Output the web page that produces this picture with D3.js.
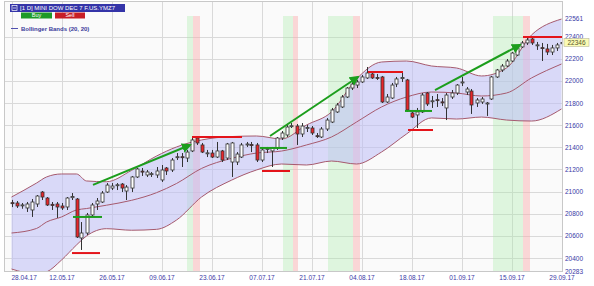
<!DOCTYPE html>
<html>
<head>
<meta charset="utf-8">
<script src="https://cdn.jsdelivr.net/npm/d3@7"></script>
<style>
body { margin: 0; background: #fff; }
svg { display: block; font-family: 'Liberation Sans', Arial, sans-serif; }
</style>
</head>
<body>
<svg id="canvas" width="594" height="286"></svg>
<script>
// tick labels (one every 10 trading days)
let dateLabels = ['28.04.17', '12.05.17', '26.05.17', '09.06.17', '23.06.17', '07.07.17',
    '21.07.17', '04.08.17', '18.08.17', '01.09.17', '15.09.17', '29.09.17']
let dateTicks = [0, 10, 20, 30, 40, 50, 60, 70, 80, 90, 100, 110]
let priceTicks = [20400, 20600, 20800, 21000, 21200, 21400, 21600, 21800, 22000, 22200, 22400]
let priceMin = 20283
let priceMax = 22561
let lastPrice = 22346

// daily candles, one per trading day from 28.04.17
let open = [20900, 20897, 20875, 20852, 20834, 20888, 20996, 20942, 20885, 20888,
    20870, 20861, 20945, 20933, 20581, 20626, 20789, 20888, 20906, 20996,
    21032, 21055, 21068, 21005, 21032, 21132, 21185, 21150, 21155, 21150,
    21105, 21213, 21195, 21310, 21315, 21303, 21367, 21484, 21421, 21345,
    21348, 21312, 21367, 21303, 21267, 21267, 21312, 21425, 21425, 21421,
    21285, 21380, 21367, 21394, 21484, 21511, 21590, 21592, 21520, 21570,
    21574, 21505, 21493, 21565, 21628, 21719, 21764, 21854, 21935, 21962,
    21990, 22026, 22062, 22030, 22035, 21809, 21845, 21971, 22020, 22008,
    21710, 21692, 21719, 21890, 21815, 21830, 21810, 21755, 21854, 21890,
    21985, 21899, 21908, 21800, 21809, 21795, 21836, 22035, 22098, 22134,
    22179, 22233, 22306, 22342, 22378, 22320, 22300, 22288, 22260, 22297, 22335]
let high = [20925, 20915, 20897, 20906, 20933, 20969, 21005, 20951, 20906, 20906,
    20897, 20951, 20987, 20942, 20725, 20807, 20897, 20942, 21005, 21077,
    21077, 21077, 21077, 21059, 21141, 21213, 21213, 21195, 21177, 21222,
    21240, 21222, 21303, 21348, 21348, 21376, 21484, 21493, 21439, 21376,
    21376, 21448, 21376, 21439, 21448, 21357, 21439, 21448, 21448, 21439,
    21394, 21403, 21403, 21493, 21547, 21601, 21619, 21610, 21619, 21601,
    21592, 21529, 21583, 21664, 21755, 21800, 21872, 21944, 21990, 22008,
    22053, 22125, 22080, 22062, 22044, 21881, 21981, 22035, 22071, 22017,
    21719, 21755, 21890, 21899, 21863, 21881, 21845, 21890, 21917, 21971,
    22035, 21944, 21926, 21845, 21854, 21809, 22044, 22107, 22152, 22197,
    22260, 22315, 22360, 22387, 22396, 22351, 22342, 22333, 22324, 22342, 22351]
let low = [20860, 20852, 20845, 20816, 20771, 20861, 20924, 20870, 20834, 20762,
    20834, 20834, 20924, 20581, 20473, 20608, 20771, 20834, 20897, 20987,
    21014, 21014, 20996, 20924, 20996, 21123, 21141, 21132, 21132, 21123,
    21087, 21150, 21177, 21285, 21222, 21267, 21357, 21421, 21348, 21312,
    21303, 21303, 21267, 21285, 21132, 21240, 21303, 21403, 21357, 21267,
    21267, 21348, 21222, 21376, 21466, 21493, 21574, 21421, 21493, 21538,
    21511, 21484, 21484, 21547, 21619, 21710, 21755, 21845, 21917, 21935,
    21981, 22017, 22017, 22008, 21800, 21800, 21836, 21944, 21990, 21719,
    21664, 21574, 21710, 21773, 21755, 21764, 21773, 21646, 21836, 21872,
    21953, 21872, 21701, 21764, 21791, 21683, 21827, 22026, 22080, 22125,
    22170, 22224, 22297, 22324, 22324, 22279, 22179, 22233, 22233, 22270, 22306]
let close = [20895, 20870, 20880, 20888, 20906, 20960, 20951, 20879, 20875, 20861,
    20852, 20942, 20955, 20590, 20626, 20789, 20879, 20915, 20987, 21059,
    21050, 21062, 21032, 21041, 21132, 21204, 21177, 21177, 21162, 21186,
    21195, 21186, 21285, 21315, 21310, 21357, 21466, 21439, 21357, 21350,
    21312, 21367, 21285, 21430, 21439, 21339, 21421, 21430, 21415, 21285,
    21376, 21390, 21394, 21484, 21529, 21583, 21595, 21520, 21592, 21578,
    21529, 21500, 21565, 21646, 21737, 21782, 21854, 21935, 21971, 21990,
    22035, 22071, 22026, 22022, 21809, 21854, 21962, 22017, 22030, 21737,
    21673, 21719, 21872, 21791, 21820, 21825, 21805, 21872, 21890, 21962,
    21990, 21926, 21782, 21827, 21836, 21800, 22035, 22098, 22134, 22179,
    22251, 22297, 22342, 22369, 22342, 22325, 22295, 22260, 22297, 22324, 22346]

// Bollinger bands (20, 20) read at these candle indexes
let bandIdx = [0, 5, 7, 10, 13, 15, 19, 24, 29, 33, 38, 44, 49, 54, 59, 64, 69, 74, 79, 84, 89, 94, 99, 104, 110]
let upperBand = [20951, 21077, 21132, 21159, 21159, 21096, 21089, 21191, 21321, 21403, 21466, 21497, 21502,
    21475, 21601, 21719, 22017, 22170, 22179, 22134, 22116, 22044, 22116, 22414, 22558]
let middleBand = [20626, 20667, 20725, 20771, 20834, 20847, 20877, 20921, 20990, 21073, 21209, 21300, 21348,
    21366, 21421, 21493, 21628, 21764, 21854, 21899, 21890, 21863, 21890, 22026, 22152]
let lowerBand = [20301, 20256, 20274, 20382, 20518, 20599, 20665, 20651, 20659, 20743, 20951, 21103, 21195,
    21249, 21240, 21276, 21249, 21357, 21520, 21665, 21655, 21673, 21646, 21637, 21746]

// signal zones, as candle index ranges
let greenZones = [[35.1, 36.3], [54.3, 56.3], [63.3, 68.3], [96.3, 102.3]]
let redZones = [[36.3, 37.7], [56.3, 57.3], [68.3, 69.7], [102.3, 103.7]]

// drawn annotations: [fromIdx, fromPrice, toIdx, toPrice]
let trendArrows = [[16.3, 21060, 35.7, 21421], [51.7, 21502, 69.3, 22035], [84.7, 21917, 101.7, 22324]]
// [fromIdx, toIdx, price]
let redLevels = [[12.1, 17.7, 20445], [36.1, 46.1, 21493], [50.1, 55.7, 21186], [71.3, 78.3, 22080],
    [79.3, 84.3, 21556], [102.3, 110.6, 22396]]
let greenLevels = [[12.3, 18.1, 20771], [49.7, 55.1, 21394], [78.7, 84.1, 21728]]

let canvas = d3.select('#canvas')
let plot = {left: 4, right: 563, top: 1, bottom: 272}

let x = d3.scaleLinear().domain([0, 110]).range([11.5, 561.5])
let y = d3.scaleLinear().domain([priceMin, priceMax]).range([271, 18.7])

canvas.append('defs').append('clipPath').attr('id', 'clip')
    .append('rect')
    .attr('x', plot.left).attr('y', plot.top)
    .attr('width', plot.right - plot.left).attr('height', plot.bottom - plot.top)

// background + frame
canvas.append('rect')
    .attr('x', plot.left).attr('y', plot.top)
    .attr('width', plot.right - plot.left).attr('height', plot.bottom - plot.top)
    .attr('fill', '#fafafa')

let g = canvas.append('g').attr('clip-path', 'url(#clip)')

// grid
g.selectAll('.hgrid')
    .data(priceTicks)
    .enter()
    .append('line')
    .attr('x1', plot.left).attr('x2', plot.right)
    .attr('y1', d => Math.round(y(d)) + 0.5).attr('y2', d => Math.round(y(d)) + 0.5)
    .attr('stroke', '#d9d9d9')
g.selectAll('.vgrid')
    .data(dateTicks)
    .enter()
    .append('line')
    .attr('x1', d => Math.round(x(d)) + 0.5).attr('x2', d => Math.round(x(d)) + 0.5)
    .attr('y1', plot.top).attr('y2', plot.bottom)
    .attr('stroke', '#d9d9d9')

// signal zones
let zoneBar = (zones, color) => {
    g.selectAll(null)
        .data(zones)
        .enter()
        .append('rect')
        .attr('x', d => x(d[0]))
        .attr('width', d => x(d[1]) - x(d[0]))
        .attr('y', 16).attr('height', plot.bottom - 16)
        .attr('fill', color)
}
zoneBar(greenZones, 'rgba(170,235,170,0.35)')
zoneBar(redZones, 'rgba(250,170,170,0.45)')

// bollinger fill and lines
let bands = bandIdx.map((d, i) => ({i: d, up: upperBand[i], mid: middleBand[i], low: lowerBand[i]}))
g.append('path')
    .datum(bands)
    .attr('d', d3.area().x(d => x(d.i)).y0(d => y(d.low)).y1(d => y(d.up)).curve(d3.curveMonotoneX))
    .attr('fill', 'rgba(190,190,245,0.55)')
;['up', 'mid', 'low'].forEach(k => {
    g.append('path')
        .datum(bands)
        .attr('d', d3.line().x(d => x(d.i)).y(d => y(d[k])).curve(d3.curveMonotoneX))
        .attr('fill', 'none')
        .attr('stroke', '#a65a6e')
        .attr('stroke-width', 1)
})

// candles
let candles = open.map((o, i) => ({i: i, o: o, h: high[i], l: low[i], c: close[i]}))
let cg = g.selectAll('.candle')
    .data(candles)
    .enter()
    .append('g')
cg.append('line')
    .attr('x1', d => Math.round(x(d.i)) + 0.5).attr('x2', d => Math.round(x(d.i)) + 0.5)
    .attr('y1', d => y(d.h)).attr('y2', d => y(d.l))
    .attr('stroke', '#333')
cg.append('rect')
    .attr('x', d => Math.round(x(d.i)) - 1)
    .attr('width', 3)
    .attr('y', d => y(Math.max(d.o, d.c)))
    .attr('height', d => Math.max(1, Math.abs(y(d.o) - y(d.c))))
    .attr('fill', d => d.c >= d.o ? '#ffffff' : '#e8262a')
    .attr('stroke', '#333')
    .attr('stroke-width', 0.8)

// annotations
g.selectAll('.red-level')
    .data(redLevels)
    .enter()
    .append('line')
    .attr('x1', d => x(d[0])).attr('x2', d => x(d[1]))
    .attr('y1', d => y(d[2])).attr('y2', d => y(d[2]))
    .attr('stroke', '#e4141a').attr('stroke-width', 2)
g.selectAll('.green-level')
    .data(greenLevels)
    .enter()
    .append('line')
    .attr('x1', d => x(d[0])).attr('x2', d => x(d[1]))
    .attr('y1', d => y(d[2])).attr('y2', d => y(d[2]))
    .attr('stroke', '#1c9e1c').attr('stroke-width', 2)

canvas.append('defs').append('marker')
    .attr('id', 'head')
    .attr('viewBox', '0 0 10 10')
    .attr('refX', 8).attr('refY', 5)
    .attr('markerWidth', 5).attr('markerHeight', 5)
    .attr('orient', 'auto')
    .append('path')
    .attr('d', 'M0,0 L10,5 L0,10 z')
    .attr('fill', '#1c9e1c')
g.selectAll('.trend')
    .data(trendArrows)
    .enter()
    .append('line')
    .attr('x1', d => x(d[0])).attr('y1', d => y(d[1]))
    .attr('x2', d => x(d[2])).attr('y2', d => y(d[3]))
    .attr('stroke', '#1c9e1c').attr('stroke-width', 2)
    .attr('marker-end', 'url(#head)')

// frame
canvas.append('rect')
    .attr('x', plot.left + 0.5).attr('y', plot.top + 0.5)
    .attr('width', plot.right - plot.left - 1).attr('height', plot.bottom - plot.top - 1)
    .attr('fill', 'none').attr('stroke', '#c8c8c8')

// y axis on the right
let yAxis = d3.axisRight(y)
    .tickValues([priceMin].concat(priceTicks, [priceMax]))
    .tickFormat(d3.format('d'))
    .tickSize(0).tickPadding(2)
let ya = canvas.append('g').attr('transform', `translate(${plot.right},0)`).call(yAxis)
ya.select('.domain').remove()
ya.selectAll('text').attr('fill', '#3a3aa6').style('font-size', '6.5px').attr('font-family', null)

// x axis
let xAxis = d3.axisBottom(x)
    .tickValues(dateTicks)
    .tickFormat((d, i) => dateLabels[i])
    .tickSize(0).tickPadding(3)
let xa = canvas.append('g').attr('transform', `translate(0,${plot.bottom})`).call(xAxis)
xa.select('.domain').remove()
xa.selectAll('text').attr('fill', '#3a3aa6').style('font-size', '6.5px').attr('font-family', null)
xa.selectAll('text').filter((d, i) => i === 0).attr('text-anchor', 'start').attr('x', 11 - x(0))

// last price tag
let lp = canvas.append('g').attr('transform', `translate(${plot.right + 1},${y(lastPrice)})`)
lp.append('rect').attr('x', 0).attr('y', -4).attr('width', 25).attr('height', 8)
    .attr('fill', '#fbfbb4').attr('stroke', '#b8b8a0').attr('stroke-width', 0.6)
lp.append('text').attr('x', 12.5).attr('y', 2.3).attr('text-anchor', 'middle')
    .style('font-size', '6.5px').attr('fill', '#55552a').text(lastPrice)

// header: instrument, buttons, legend
canvas.append('rect').attr('x', 10).attr('y', 4).attr('width', 115).attr('height', 8).attr('fill', '#3434a8')
canvas.append('rect').attr('x', 12).attr('y', 5.5).attr('width', 5).attr('height', 5)
    .attr('fill', 'none').attr('stroke', '#fff').attr('stroke-width', 0.7)
canvas.append('line').attr('x1', 13).attr('x2', 16).attr('y1', 8).attr('y2', 8).attr('stroke', '#fff').attr('stroke-width', 0.7)
canvas.append('text').attr('x', 20).attr('y', 10.3).attr('fill', '#fff')
    .style('font-size', '6px').text('[1 D] MINI DOW DEC 7   F.US.YMZ7')
canvas.append('rect').attr('x', 21).attr('y', 12.5).attr('width', 31).attr('height', 6).attr('fill', '#1e9a28')
canvas.append('text').attr('x', 36.5).attr('y', 17.4).attr('text-anchor', 'middle').attr('fill', '#fff')
    .style('font-size', '5.5px').text('Buy')
canvas.append('rect').attr('x', 55).attr('y', 12.5).attr('width', 30).attr('height', 6).attr('fill', '#c81e26')
canvas.append('text').attr('x', 70).attr('y', 17.4).attr('text-anchor', 'middle').attr('fill', '#fff')
    .style('font-size', '5.5px').text('Sell')
canvas.append('line').attr('x1', 11).attr('x2', 18).attr('y1', 28.5).attr('y2', 28.5).attr('stroke', '#5050b0')
canvas.append('text').attr('x', 21).attr('y', 30.5).attr('fill', '#3a3a9a')
    .style('font-size', '6px').style('font-weight', 'bold').text('Bollinger Bands  (20, 20)')
</script>
</body>
</html>
